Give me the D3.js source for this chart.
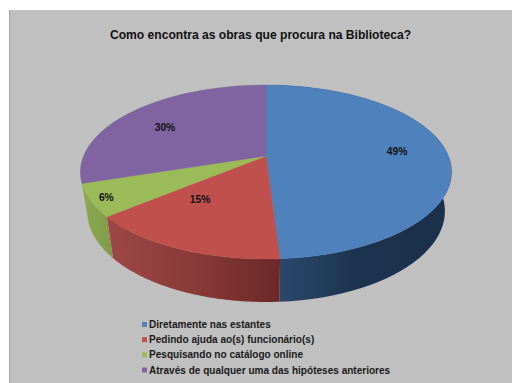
<!DOCTYPE html>
<html lang="pt">
<head>
<meta charset="utf-8">
<title>Como encontra as obras que procura na Biblioteca?</title>
<script src="https://cdn.jsdelivr.net/npm/d3@7"></script>
<style>
  html, body { margin: 0; padding: 0; background: #fff; }
  svg { display: block; font-family: "Liberation Sans", Arial, sans-serif; }
</style>
</head>
<body>
<svg id="chart" width="512" height="383"></svg>
<script>
const chartTitle = "Como encontra as obras que procura na Biblioteca?";
const categories = [
  "Diretamente nas estantes",
  "Pedindo ajuda ao(s) funcionário(s)",
  "Pesquisando no catálogo online",
  "Através de qualquer uma das hipóteses anteriores"
];
const shares = [49, 15, 6, 30];
const topColors = ["#4f81bd", "#c0504d", "#9bbb59", "#8064a2"];
// Wall shading per slice, from the left end of the wall to the right end.
// The last slice only shows a hairline of wall, blended into its neighbour.
const wallColors = [
  ["#2d4c70", "#1c334f", "#1b3049"],
  ["#9e4846", "#8a3a38", "#6a2927"],
  ["#8ba850", "#86a24c", "#7f9a48"],
  ["#8ba850", "#8ba850", "#8ba850"]
];
// Label placement on the pie plane: radial fraction plus a small pixel nudge.
const labelRadius = [0.75, 0.55, 0.87, 0.7];
const labelNudge = [[-5, -3], [-22, -3], [-9, 3], [-5, 4]];

const width = 512, height = 383;
const svg = d3.select("#chart");

// Perspective view of the disc: near edge is larger than the far edge.
const view = { cx: 266, cy: 156, rx: 182.4, ry: 84, tilt: 0.184, depth: 40.4, shrink: 0.036 };
function project(angle, rho, z) {
  const u = rho * Math.sin(angle), v = -rho * Math.cos(angle);
  const w = 1 - view.tilt * v + view.shrink * z;
  return [view.cx + view.rx * u / w, view.cy + (view.ry * v + view.depth * z) / w];
}

const svgDefs = svg.append("defs");
svg.append("rect").attr("x", 9).attr("y", 10)
  .attr("width", width - 9).attr("height", height - 10).attr("fill", "#c0c0c0");
svg.append("rect").attr("x", 9).attr("y", 10)
  .attr("width", 1).attr("height", height - 10).attr("fill", "#a4a4a4");

svg.append("text")
  .attr("x", 260.5).attr("y", 38.5)
  .attr("text-anchor", "middle")
  .attr("font-size", 12.1).attr("font-weight", 700).attr("fill", "#111")
  .text(chartTitle);

const pieLayout = d3.pie().sort(null).value(d => d);
const arcs = pieLayout(shares);
const outline = d3.line();
const arcAngles = a => d3.range(0, 61).map(i => a.startAngle + (a.endAngle - a.startAngle) * i / 60);

// Walls first, so the top faces cover whatever lies behind them.
arcs.forEach((a, i) => {
  const angles = arcAngles(a);
  const upper = angles.map(t => project(t, 1, 0));
  const lower = angles.map(t => project(t, 1, 1)).reverse();
  const xs = upper.concat(lower).map(p => p[0]);
  const grad = svgDefs.append("linearGradient")
    .attr("id", "wall" + i).attr("gradientUnits", "userSpaceOnUse")
    .attr("x1", d3.min(xs)).attr("x2", d3.max(xs)).attr("y1", 0).attr("y2", 0);
  wallColors[i].forEach((c, j) => grad.append("stop").attr("offset", j / 2).attr("stop-color", c));
  svg.append("path")
    .attr("d", outline(upper.concat(lower)) + "Z")
    .attr("fill", `url(#wall${i})`);
});

arcs.forEach((a, i) => {
  const pts = [[view.cx, view.cy]].concat(arcAngles(a).map(t => project(t, 1, 0)));
  svg.append("path")
    .attr("d", outline(pts) + "Z")
    .attr("fill", topColors[i])
    .attr("stroke", topColors[i]).attr("stroke-width", 0.4);
});

arcs.forEach((a, i) => {
  const [x, y] = project((a.startAngle + a.endAngle) / 2, labelRadius[i], 0);
  svg.append("text")
    .attr("x", x + labelNudge[i][0]).attr("y", y + labelNudge[i][1] + 3.5)
    .attr("text-anchor", "middle")
    .attr("font-size", 10.3).attr("font-weight", 700).attr("fill", "#111")
    .text(shares[i] + "%");
});

const legendRow = d3.scalePoint().domain(d3.range(categories.length)).range([324.5, 370]);
categories.forEach((label, i) => {
  svg.append("rect")
    .attr("x", 142).attr("y", legendRow(i) - 2.5)
    .attr("width", 5).attr("height", 5).attr("fill", topColors[i]);
  svg.append("text")
    .attr("x", 149).attr("y", legendRow(i) + 3.5)
    .attr("font-size", 10.05).attr("font-weight", 700).attr("fill", "#1a1a1a")
    .text(label);
});
</script>
</body>
</html>
